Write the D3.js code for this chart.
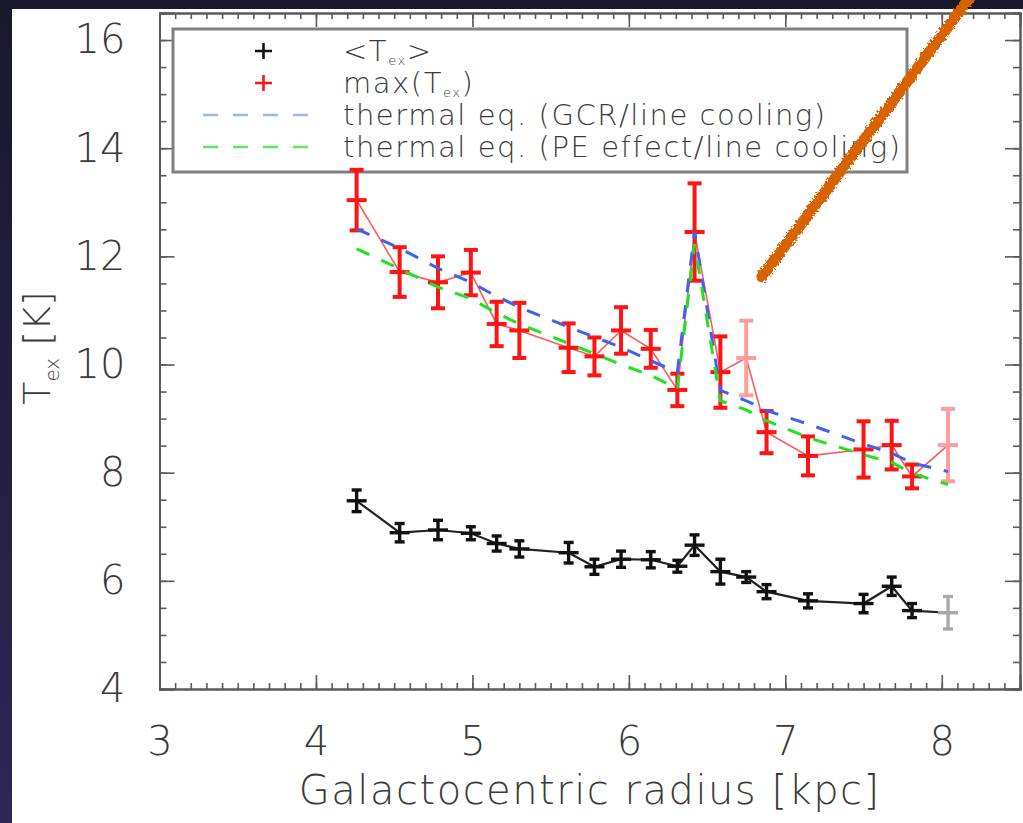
<!DOCTYPE html>
<html>
<head>
<meta charset="utf-8">
<script src="https://cdn.jsdelivr.net/npm/d3@7"></script>
<style>
  html, body { margin: 0; padding: 0; background: #1c1b33; }
  svg { display: block; }
  text { font-family: "DejaVu Sans", "Liberation Sans", sans-serif; font-weight: 200; fill: #3a3a3a; }
</style>
</head>
<body>
<div id="chart"></div>
<script>
// galactocentric radius [kpc]
const radius = [4.26, 4.535, 4.78, 4.99, 5.155, 5.30, 5.615, 5.78, 5.95, 6.14,
  6.31, 6.42, 6.585, 6.75, 6.88, 7.145, 7.50, 7.68, 7.81, 8.04];
// max(Tex) and its error
const maxTex = [13.04, 11.71, 11.52, 11.70, 10.75, 10.63, 10.31, 10.15, 10.63, 10.29,
  9.53, 12.45, 9.86, 10.12, 8.75, 8.31, 8.43, 8.51, 7.93, 8.51];
const maxErr = [0.56, 0.46, 0.48, 0.42, 0.41, 0.51, 0.45, 0.35, 0.43, 0.35,
  0.30, 0.90, 0.66, 0.69, 0.39, 0.36, 0.52, 0.45, 0.22, 0.67];
const maxFaint = [13, 19];
// <Tex> and its error
const meanTex = [7.48, 6.89, 6.94, 6.88, 6.69, 6.59, 6.52, 6.26, 6.40, 6.39,
  6.27, 6.66, 6.17, 6.07, 5.80, 5.63, 5.58, 5.90, 5.45, 5.41];
const meanErr = [0.20, 0.17, 0.18, 0.12, 0.14, 0.15, 0.19, 0.14, 0.15, 0.15,
  0.11, 0.19, 0.23, 0.10, 0.13, 0.13, 0.17, 0.17, 0.13, 0.30];
const meanFaint = [19];
// thermal equilibrium models
const gcrEq = [12.51, 12.15, 11.78, 11.52, 11.26, 11.06, 10.69, 10.51, 10.32, 10.07,
  9.86, 12.45, 9.52, 9.33, 9.15, 8.90, 8.53, 8.36, 8.18, 8.02];
const peEq = [12.14, 11.77, 11.43, 11.22, 10.95, 10.75, 10.39, 10.20, 10.00, 9.80,
  9.55, 12.23, 9.33, 9.16, 8.96, 8.65, 8.33, 8.19, 7.99, 7.78];
// axis ticks
const xTicks = [3, 4, 5, 6, 7, 8];
const yTicks = [4, 6, 8, 10, 12, 14, 16];
// hand drawn annotation stroke (data coords)
const annot = [[6.85, 11.62], [8.17, 16.75]];

const W = 1023, H = 823;
const mLeft = 159.5, mRight = 1020, mTop = 13, mBottom = 689;

const x = d3.scaleLinear().domain([3, 8.5]).range([mLeft, mRight]);
const y = d3.scaleLinear().domain([4, 16.5]).range([mBottom, mTop]);

const svg = d3.select('#chart').append('svg').attr('width', W).attr('height', H);

// dark slide background + white panel
const defs = svg.append('defs');
const grad = defs.append('linearGradient')
  .attr('id', 'bg').attr('x1', 0).attr('y1', 0).attr('x2', 0).attr('y2', 1);
grad.append('stop').attr('offset', 0).attr('stop-color', '#19182c');
grad.append('stop').attr('offset', 1).attr('stop-color', '#2c2856');
svg.append('rect').attr('width', W).attr('height', H).attr('fill', 'url(#bg)');
svg.append('rect').attr('x', 12).attr('y', 9).attr('width', W - 12).attr('height', H - 9).attr('fill', '#fff');

const rough = defs.append('filter').attr('id', 'rough')
  .attr('x', '-10%').attr('y', '-10%').attr('width', '120%').attr('height', '120%');
rough.append('feTurbulence').attr('type', 'fractalNoise').attr('baseFrequency', 0.4).attr('numOctaves', 2).attr('result', 'n');
rough.append('feDisplacementMap').attr('in', 'SourceGraphic').attr('in2', 'n').attr('scale', 5);

// axes (ticks on all four sides, pointing in)
const axisCol = '#5a5a5a';
const xMinor = d3.range(30, 86).map(d => d / 10);
const yMinor = d3.range(8, 34).map(d => d / 2);

svg.append('g').attr('transform', `translate(0,${mBottom})`)
  .call(d3.axisBottom(x).tickValues(xMinor).tickSize(-6).tickFormat(''));
svg.append('g').attr('transform', `translate(0,${mBottom})`)
  .call(d3.axisBottom(x).tickValues(xTicks).tickSize(-14).tickPadding(38).tickFormat(d3.format('d')))
  .call(g => g.selectAll('text').attr('font-size', 40));
svg.append('g').attr('transform', `translate(0,${mTop})`)
  .call(d3.axisTop(x).tickValues(xMinor).tickSize(-6).tickFormat(''));
svg.append('g').attr('transform', `translate(0,${mTop})`)
  .call(d3.axisTop(x).tickValues(xTicks).tickSize(-14).tickFormat(''));

svg.append('g').attr('transform', `translate(${mLeft},0)`)
  .call(d3.axisLeft(y).tickValues(yMinor).tickSize(-7).tickFormat(''));
svg.append('g').attr('transform', `translate(${mLeft},0)`)
  .call(d3.axisLeft(y).tickValues(yTicks).tickSize(-15).tickPadding(34).tickFormat(d3.format('d')))
  .call(g => g.selectAll('text').attr('font-size', 40));
svg.append('g').attr('transform', `translate(${mRight},0)`)
  .call(d3.axisRight(y).tickValues(yMinor).tickSize(-7).tickFormat(''));
svg.append('g').attr('transform', `translate(${mRight},0)`)
  .call(d3.axisRight(y).tickValues(yTicks).tickSize(-15).tickFormat(''));

svg.selectAll('.domain').attr('stroke', axisCol).attr('stroke-width', 2);
svg.selectAll('.tick line').attr('stroke', axisCol).attr('stroke-width', 1.6);
svg.selectAll('.tick text').attr('fill', '#3a3a3a').attr('font-family', null);

// axis titles
svg.append('text')
  .attr('x', (mLeft + mRight) / 2).attr('y', 804)
  .attr('text-anchor', 'middle').attr('font-size', 40).attr('letter-spacing', 1.5)
  .text('Galactocentric radius [kpc]');

const yl = svg.append('text')
  .attr('transform', 'translate(50,348) rotate(-90)')
  .attr('text-anchor', 'middle').attr('font-size', 38);
yl.append('tspan').text('T');
yl.append('tspan').attr('dy', 9).attr('font-size', 20).text('ex');
yl.append('tspan').attr('dy', -9).text(' [K]');

// legend (drawn under the data)
const lg = svg.append('g');
lg.append('rect').attr('x', 173).attr('y', 29).attr('width', 734).attr('height', 143)
  .attr('fill', '#fff').attr('stroke', '#808080').attr('stroke-width', 3);

const legendItems = [
  { kind: 'plus', col: '#111', label: ['<T', 'ex', '>'] },
  { kind: 'plus', col: '#ff1414', label: ['max(T', 'ex', ')'] },
  { kind: 'dash', col: '#9fb4f5', label: ['thermal eq. (GCR/line cooling)'] },
  { kind: 'dash', col: '#5ee85e', label: ['thermal eq. (PE effect/line cooling)'] }
];
const ly = [51, 83, 115, 147];

legendItems.forEach((it, k) => {
  if (it.kind === 'plus') {
    lg.append('path').attr('d', `M255,${ly[k]}h17M263.5,${ly[k] - 8}v16`)
      .attr('stroke', it.col).attr('stroke-width', 2.6);
  } else {
    lg.append('line').attr('x1', 203).attr('x2', 311).attr('y1', ly[k]).attr('y2', ly[k])
      .attr('stroke', it.col).attr('stroke-width', 2.6).attr('stroke-dasharray', '15,15');
  }
  const t = lg.append('text').attr('x', 343).attr('y', ly[k] + 10)
    .attr('font-size', 29).attr('letter-spacing', 1.55);
  t.append('tspan').text(it.label[0]);
  if (it.label.length > 1) {
    t.append('tspan').attr('dy', 4).attr('font-size', 13).text(it.label[1]);
    t.append('tspan').attr('dy', -4).text(it.label[2]);
  }
});

// data rows
const rows = radius.map((r, i) => ({
  r, max: maxTex[i], maxE: maxErr[i], mean: meanTex[i], meanE: meanErr[i],
  gcr: gcrEq[i], pe: peEq[i], i
}));

const line = key => d3.line().x(d => x(d.r)).y(d => y(d[key]));

function errorBars(g, key, errKey, faint, col, faintCol, width, cap, arm) {
  const pts = g.selectAll(null).data(rows).enter().append('g')
    .attr('stroke', d => faint.includes(d.i) ? faintCol : col)
    .attr('stroke-width', width);
  pts.append('line')
    .attr('x1', d => x(d.r)).attr('x2', d => x(d.r))
    .attr('y1', d => y(d[key] + d[errKey])).attr('y2', d => y(d[key] - d[errKey]));
  [1, -1].forEach(s => {
    pts.append('line')
      .attr('x1', d => x(d.r) - cap).attr('x2', d => x(d.r) + cap)
      .attr('y1', d => y(d[key] + s * d[errKey])).attr('y2', d => y(d[key] + s * d[errKey]));
  });
  pts.append('line')
    .attr('x1', d => x(d.r) - arm).attr('x2', d => x(d.r) + arm)
    .attr('y1', d => y(d[key])).attr('y2', d => y(d[key]));
}

const plot = svg.append('g');

// <Tex>
plot.append('path').datum(rows).attr('d', line('mean'))
  .attr('fill', 'none').attr('stroke', '#222').attr('stroke-width', 2.2);
errorBars(plot.append('g'), 'mean', 'meanE', meanFaint, '#111', '#a8a8a8', 3.4, 5, 10);

// max(Tex)
plot.append('path').datum(rows).attr('d', line('max'))
  .attr('fill', 'none').attr('stroke', '#ff5a5a').attr('stroke-width', 1.6);
errorBars(plot.append('g'), 'max', 'maxE', maxFaint, '#ff1414', '#ff9d9d', 4, 7, 10);

// thermal equilibrium models
plot.append('path').datum(rows).attr('d', line('gcr'))
  .attr('fill', 'none').attr('stroke', '#3d63f0').attr('stroke-width', 3).attr('stroke-dasharray', '14,13');
plot.append('path').datum(rows).attr('d', line('pe'))
  .attr('fill', 'none').attr('stroke', '#22e022').attr('stroke-width', 3).attr('stroke-dasharray', '14,13');

// orange hand drawn stroke
svg.append('path')
  .attr('d', d3.line().x(d => x(d[0])).y(d => y(d[1]))(annot))
  .attr('stroke', '#d86200').attr('stroke-width', 11).attr('stroke-linecap', 'round')
  .attr('filter', 'url(#rough)');
</script>
</body>
</html>
